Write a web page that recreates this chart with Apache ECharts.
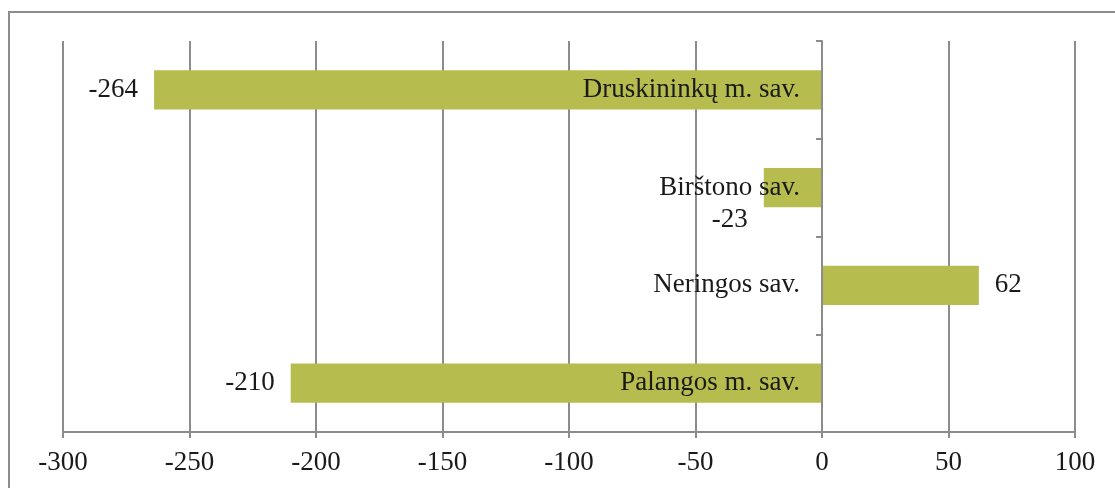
<!DOCTYPE html>
<html>
<head>
<meta charset="utf-8">
<script src="https://cdn.jsdelivr.net/npm/echarts@6/dist/echarts.min.js"></script>
<style>
  html, body { margin: 0; padding: 0; background: #fff; }
  #chart { width: 1115px; height: 488px; }
</style>
</head>
<body>
<div id="chart"></div>
<script>
  // savivaldybės, iš viršaus į apačią
  const categories = ['Druskininkų m. sav.', 'Birštono sav.', 'Neringos sav.', 'Palangos m. sav.']
  const values = [-264, -23, 62, -210]

  const xMin = -300
  const xMax = 100
  const xStep = 50

  const fontFamily = '"Liberation Serif", "DejaVu Serif", serif'
  const gray = '#8c8c8c'
  const gridLeft = 63
  const gridRight = 40
  const gridWidth = 1115 - gridLeft - gridRight

  const chart = echarts.init(document.getElementById('chart'))

  // -23 etiketė Excel'yje nukrito žemiau stulpelio
  const barData = values.map((v) => {
    if (v === -23) {
      return { value: v, label: { position: 'left', distance: 16, offset: [0, 32] } }
    }
    return v
  })

  chart.setOption({
    animation: false,
    textStyle: { fontFamily: fontFamily },
    grid: {
      left: gridLeft,
      right: gridRight,
      top: 41,
      bottom: 56,
      containLabel: false,
      outerBoundsMode: 'none',
    },
    graphic: [
      {
        type: 'rect',
        shape: { x: 9, y: 12, width: 1120, height: 500 },
        style: { fill: 'none', stroke: gray, lineWidth: 2 },
        silent: true,
      },
    ],
    xAxis: {
      type: 'value',
      min: xMin,
      max: xMax,
      interval: xStep,
      axisLine: { show: true, onZero: false, lineStyle: { color: gray, width: 2 } },
      axisTick: { show: true, length: 6, lineStyle: { color: gray, width: 2 } },
      axisLabel: { color: '#1a1a1a', fontSize: 27, margin: 17, fontFamily: fontFamily },
      splitLine: { show: true, lineStyle: { color: gray, width: 2 } },
    },
    yAxis: {
      type: 'category',
      data: categories,
      inverse: true,
      z: 5,
      // kategorijų ašis stovi ties nuliu, kartu su etiketėmis
      offset: -((0 - xMin) / (xMax - xMin)) * gridWidth,
      axisLine: { show: true, onZero: false, lineStyle: { color: gray, width: 2 } },
      axisTick: { show: true, length: 6, lineStyle: { color: gray, width: 2 } },
      axisLabel: { color: '#1a1a1a', fontSize: 27, margin: 22, fontFamily: fontFamily },
      splitLine: { show: false },
    },
    series: [
      {
        type: 'bar',
        data: barData,
        barCategoryGap: '60%',
        itemStyle: { color: '#b6bd4e' },
        label: {
          show: true,
          position: 'outside',
          distance: 16,
          color: '#1a1a1a',
          fontSize: 27,
          fontFamily: fontFamily,
        },
      },
    ],
  })
</script>
</body>
</html>
